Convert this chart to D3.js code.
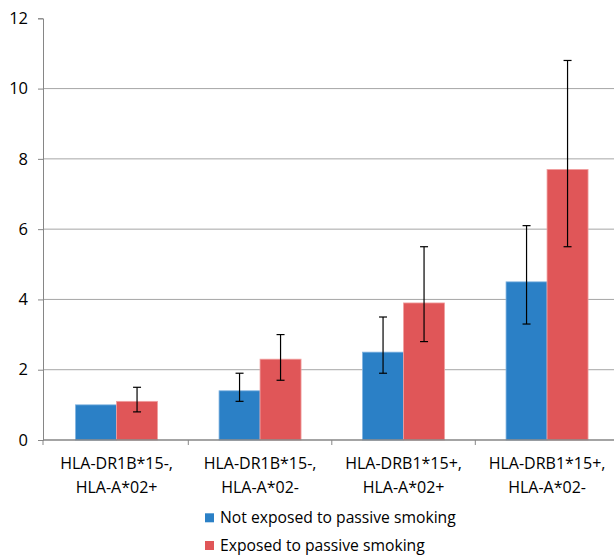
<!DOCTYPE html>
<html><head><meta charset="utf-8">
<script src="https://cdn.jsdelivr.net/npm/d3@7"></script>
<style>body{margin:0;background:#fff;} svg{display:block;}</style>
</head><body>
<svg id="c" width="614" height="555"></svg>
<script>
const categories = [["HLA-DR1B*15-,","HLA-A*02+"],["HLA-DR1B*15-,","HLA-A*02-"],["HLA-DRB1*15+,","HLA-A*02+"],["HLA-DRB1*15+,","HLA-A*02-"]];
const seriesNames = ["Not exposed to passive smoking","Exposed to passive smoking"];
const notExposed = [1.0, 1.4, 2.5, 4.5];
const notExposedLow = [null, 1.1, 1.9, 3.3];
const notExposedHigh = [null, 1.9, 3.5, 6.1];
const exposed = [1.1, 2.3, 3.9, 7.7];
const exposedLow = [0.8, 1.7, 2.8, 5.5];
const exposedHigh = [1.5, 3.0, 5.5, 10.8];
const yTicks = [0, 2, 4, 6, 8, 10, 12];
const colors = ["#2b80c6", "#e05658"];

(function(){
const svg = d3.select("#c");
const font = "'Open Sans', sans-serif";
const axisX = 43, bandStart = 44.8, step = 143.5, mT = 18.3, mB = 440;
const y = d3.scaleLinear().domain([0, 12]).range([mB, mT]);
const x = d3.scaleBand().domain(d3.range(4)).range([bandStart, bandStart + 4*step]).paddingInner(0).paddingOuter(0);
const inner = d3.scaleBand().domain([0,1]).range([0, x.bandwidth()]).paddingInner(0);
inner.paddingOuter((x.bandwidth() - 82) / 2 / 41);

svg.append("g").selectAll("line").data(yTicks.filter(t => t > 0 && t < 12)).join("line")
  .attr("x1", axisX).attr("x2", 614).attr("y1", d => y(d)).attr("y2", d => y(d))
  .attr("stroke", "#a6a6a6").attr("stroke-width", 1);

const ya = svg.append("g").attr("transform", `translate(${axisX},0)`)
  .call(d3.axisLeft(y).tickValues(yTicks).tickSize(5).tickPadding(10).tickFormat(d3.format("d")));
ya.select(".domain").attr("stroke", "#868686");
ya.selectAll(".tick line").attr("stroke", "#868686");
ya.selectAll("text").attr("font-family", font).attr("font-size", 16.5).attr("fill", "#000");

const series = [
  {vals: notExposed, lo: notExposedLow, hi: notExposedHigh},
  {vals: exposed, lo: exposedLow, hi: exposedHigh}
];

series.forEach((s, si) => {
  svg.append("g").selectAll("rect").data(s.vals).join("rect")
    .attr("x", (d, i) => x(i) + inner(si))
    .attr("width", inner.bandwidth())
    .attr("y", d => y(d))
    .attr("height", d => y(0) - y(d))
    .attr("fill", colors[si])
    .attr("stroke", si === 0 ? "#7fb2e0" : "#f0a0a0").attr("stroke-width", 0.8);
});

const xa = svg.append("g").attr("transform", `translate(0,${mB})`);
xa.append("line").attr("x1", axisX).attr("x2", 614).attr("stroke", "#868686").attr("stroke-width", 1.5);
xa.selectAll(".tk").data(d3.range(5)).join("line").attr("class","tk")
  .attr("x1", i => i === 0 ? axisX : x(0) + i * x.step()).attr("x2", i => i === 0 ? axisX : x(0) + i * x.step())
  .attr("y1", 0).attr("y2", 5).attr("stroke", "#868686");
const lbl = xa.selectAll(".lbl").data(categories).join("text").attr("class","lbl")
  .attr("text-anchor", "middle").attr("font-family", font).attr("font-size", 16).attr("fill", "#000");
lbl.each(function(d, i) {
  const t = d3.select(this);
  d.forEach((line, li) => t.append("tspan").attr("x", x(i) + x.bandwidth()/2).attr("y", 28.5 + li*24).text(line));
});

series.forEach((s, si) => {
  const g = svg.append("g").attr("stroke", "#000").attr("stroke-width", 1.2);
  s.vals.forEach((v, i) => {
    if (s.lo[i] == null) return;
    const cx = x(i) + inner(si) + inner.bandwidth()/2;
    g.append("line").attr("x1", cx).attr("x2", cx).attr("y1", y(s.hi[i])).attr("y2", y(s.lo[i]));
    g.append("line").attr("x1", cx-4).attr("x2", cx+4).attr("y1", y(s.hi[i])).attr("y2", y(s.hi[i]));
    g.append("line").attr("x1", cx-4).attr("x2", cx+4).attr("y1", y(s.lo[i])).attr("y2", y(s.lo[i]));
  });
});

const lg = svg.append("g");
seriesNames.forEach((n, i) => {
  lg.append("rect").attr("x", 205).attr("y", 513.3 + i*27.7).attr("width", 9).attr("height", 9).attr("fill", colors[i]);
  lg.append("text").attr("x", 220).attr("y", 523 + i*27.7).attr("font-family", font).attr("font-size", 15.7).attr("fill", "#000").text(n);
});
})();
</script>
</body></html>
